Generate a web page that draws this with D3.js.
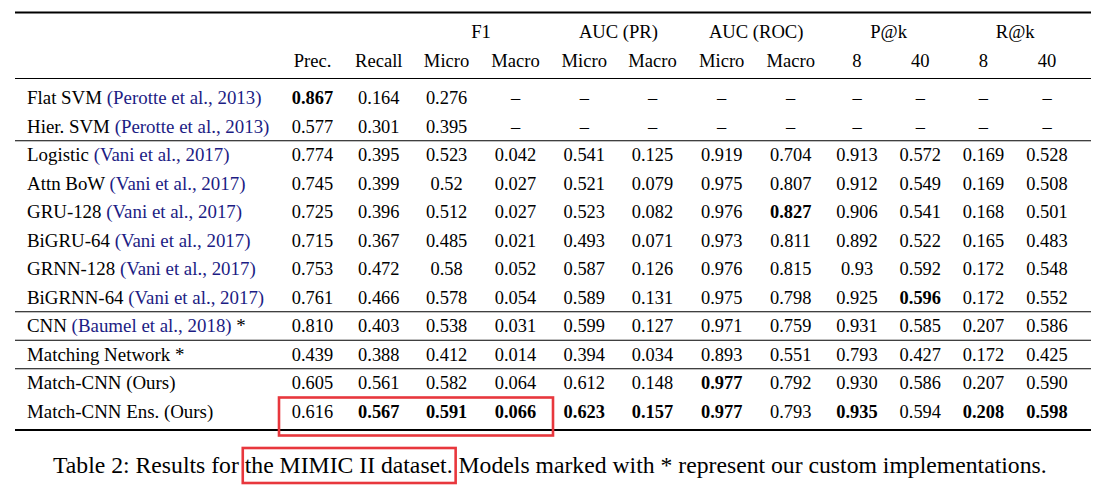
<!DOCTYPE html>
<html>
<head>
<meta charset="utf-8">
<script src="https://cdn.jsdelivr.net/npm/d3@7"></script>
<style>
  html, body { margin: 0; padding: 0; background: #fff; }
  svg { display: block; }
</style>
</head>
<body>
<svg id="chart" width="1119" height="493"></svg>
<script>
// ---------- data ----------
const models = ["Flat SVM", "Hier. SVM", "Logistic", "Attn BoW", "GRU-128", "BiGRU-64",
  "GRNN-128", "BiGRNN-64", "CNN", "Matching Network", "Match-CNN", "Match-CNN Ens."];
const citations = ["(Perotte et al., 2013)", "(Perotte et al., 2013)",
  "(Vani et al., 2017)", "(Vani et al., 2017)", "(Vani et al., 2017)", "(Vani et al., 2017)",
  "(Vani et al., 2017)", "(Vani et al., 2017)", "(Baumel et al., 2018)", "", "", ""];
const suffixes = ["", "", "", "", "", "", "", "", " *", " *", " (Ours)", " (Ours)"];

const groupHeaders = ["F1", "AUC (PR)", "AUC (ROC)", "P@k", "R@k"];
const columnKeys = ["prec", "recall", "f1Micro", "f1Macro", "prMicro", "prMacro",
  "rocMicro", "rocMacro", "p8", "p40", "r8", "r40"];
const columnLabels = ["Prec.", "Recall", "Micro", "Macro", "Micro", "Macro",
  "Micro", "Macro", "8", "40", "8", "40"];
const groupSpans = [["f1Micro", "f1Macro"], ["prMicro", "prMacro"], ["rocMicro", "rocMacro"],
  ["p8", "p40"], ["r8", "r40"]];

const prec     = ["0.867","0.577","0.774","0.745","0.725","0.715","0.753","0.761","0.810","0.439","0.605","0.616"];
const recall   = ["0.164","0.301","0.395","0.399","0.396","0.367","0.472","0.466","0.403","0.388","0.561","0.567"];
const f1Micro  = ["0.276","0.395","0.523","0.52","0.512","0.485","0.58","0.578","0.538","0.412","0.582","0.591"];
const f1Macro  = [null,null,"0.042","0.027","0.027","0.021","0.052","0.054","0.031","0.014","0.064","0.066"];
const prMicro  = [null,null,"0.541","0.521","0.523","0.493","0.587","0.589","0.599","0.394","0.612","0.623"];
const prMacro  = [null,null,"0.125","0.079","0.082","0.071","0.126","0.131","0.127","0.034","0.148","0.157"];
const rocMicro = [null,null,"0.919","0.975","0.976","0.973","0.976","0.975","0.971","0.893","0.977","0.977"];
const rocMacro = [null,null,"0.704","0.807","0.827","0.811","0.815","0.798","0.759","0.551","0.792","0.793"];
const p8       = [null,null,"0.913","0.912","0.906","0.892","0.93","0.925","0.931","0.793","0.930","0.935"];
const p40      = [null,null,"0.572","0.549","0.541","0.522","0.592","0.596","0.585","0.427","0.586","0.594"];
const r8       = [null,null,"0.169","0.169","0.168","0.165","0.172","0.172","0.207","0.172","0.207","0.208"];
const r40      = [null,null,"0.528","0.508","0.501","0.483","0.548","0.552","0.586","0.425","0.590","0.598"];

const boldCells = [
  ["Flat SVM", "prec"], ["GRU-128", "rocMacro"], ["BiGRNN-64", "p40"], ["Match-CNN", "rocMicro"],
  ["Match-CNN Ens.", "recall"], ["Match-CNN Ens.", "f1Micro"], ["Match-CNN Ens.", "f1Macro"],
  ["Match-CNN Ens.", "prMicro"], ["Match-CNN Ens.", "prMacro"], ["Match-CNN Ens.", "rocMicro"],
  ["Match-CNN Ens.", "p8"], ["Match-CNN Ens.", "r8"], ["Match-CNN Ens.", "r40"]
];
const groupBreaksAfter = ["Hier. SVM", "BiGRNN-64", "CNN", "Matching Network"];
const highlightRow = "Match-CNN Ens.";
const highlightCols = ["prec", "f1Macro"];

const captionText = "Table 2: Results for the MIMIC II dataset. Models marked with * represent our custom implementations.";
const captionHighlight = "the MIMIC II dataset.";

const seriesByKey = { prec, recall, f1Micro, f1Macro, prMicro, prMacro, rocMicro, rocMacro, p8, p40, r8, r40 };

// ---------- layout ----------
const FONT = "Liberation Serif";
const fsLabel = 18.9, fsNum = 18.4, fsHead = 18.6;
const citeColor = "#1c1c84";
const red = "#e8373d";
const tableLeft = 15, tableRight = 1091;
const labelX = 27;

const svg = d3.select("#chart");

const y = d3.scalePoint().domain(models).range([98, 411.5]);
const x = d3.scaleOrdinal().domain(columnKeys)
  .range([312.5, 378.8, 446.6, 515.5, 584.3, 652.5, 721.7, 790.7, 857, 920.3, 983.4, 1047]);
const baseOff = 6.3;
const header1Y = 37.5, header2Y = 67;

const boldSet = new Set(boldCells.map(d => d[0] + "|" + d[1]));

// rules
function rule(yy, w) {
  svg.append("line").attr("x1", tableLeft).attr("x2", tableRight)
    .attr("y1", yy).attr("y2", yy).attr("stroke", "#000").attr("stroke-width", w);
}
rule(12.5, 2);
rule(78.5, 1.2);
const step = y.step();
groupBreaksAfter.forEach(m => rule(y(m) + step / 2, 1.2));
rule(430, 2);

// group headers
groupSpans.forEach((span, i) => {
  svg.append("text")
    .attr("x", (x(span[0]) + x(span[1])) / 2).attr("y", header1Y)
    .attr("text-anchor", "middle").attr("font-family", FONT).attr("font-size", fsHead)
    .attr("fill", "#000").text(groupHeaders[i]);
});
// column headers
svg.selectAll("text.colhead").data(columnKeys).join("text")
  .attr("class", "colhead")
  .attr("x", d => x(d)).attr("y", header2Y)
  .attr("text-anchor", "middle").attr("font-family", FONT).attr("font-size", fsHead)
  .attr("fill", "#000").text((d, i) => columnLabels[i]);

// row labels
models.forEach((m, i) => {
  const t = svg.append("text").attr("x", labelX).attr("y", y(m) + baseOff)
    .attr("font-family", FONT).attr("font-size", fsLabel).attr("fill", "#000")
    .attr("xml:space", "preserve");
  t.append("tspan").text(m);
  if (citations[i]) t.append("tspan").attr("fill", citeColor).text(" " + citations[i]);
  if (suffixes[i]) t.append("tspan").text(suffixes[i]);
});

// cells
const cells = [];
models.forEach((m, i) => columnKeys.forEach(k => {
  const v = seriesByKey[k][i];
  cells.push({ m, k, v: v == null ? "\u2013" : v, bold: boldSet.has(m + "|" + k) });
}));
svg.selectAll("text.cell").data(cells).join("text")
  .attr("class", "cell")
  .attr("x", d => x(d.k)).attr("y", d => y(d.m) + baseOff)
  .attr("text-anchor", "middle").attr("font-family", FONT).attr("font-size", fsNum)
  .attr("font-weight", d => d.bold ? "bold" : "normal")
  .attr("fill", "#000").text(d => d.v);

// highlight box on table
svg.append("rect")
  .attr("x", x(highlightCols[0]) - 33.5)
  .attr("y", y(highlightRow) - 14)
  .attr("width", (x(highlightCols[1]) + 37.5) - (x(highlightCols[0]) - 33.5))
  .attr("height", 38)
  .attr("fill", "none").attr("stroke", red).attr("stroke-width", 2.6);

// caption
const capX = 53, capY = 473, capTarget = 994;
const cap = svg.append("text").attr("x", capX).attr("y", capY)
  .attr("font-family", FONT).attr("font-size", 21).attr("fill", "#000")
  .attr("xml:space", "preserve").text(captionText);
const w0 = cap.node().getComputedTextLength();
const capFs = 21 * capTarget / w0;
cap.attr("font-size", capFs);
const idx = captionText.indexOf(captionHighlight);
const node = cap.node();
const pre = node.getSubStringLength(0, idx);
const hw = node.getSubStringLength(idx, captionHighlight.length);
svg.append("rect")
  .attr("x", capX + pre - 2).attr("y", 448)
  .attr("width", hw + 5).attr("height", 35)
  .attr("fill", "none").attr("stroke", red).attr("stroke-width", 2.6);
</script>
</body>
</html>
